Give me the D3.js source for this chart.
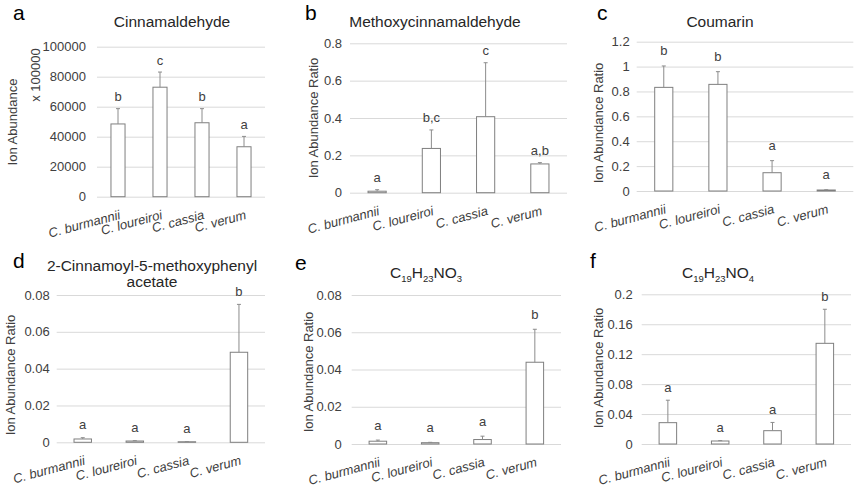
<!DOCTYPE html>
<html>
<head>
<meta charset="utf-8">
<script src="https://cdn.jsdelivr.net/npm/d3@7"></script>
<style>
  html, body { margin: 0; padding: 0; background: #ffffff; }
  svg { display: block; font-family: "Liberation Sans", Arial, sans-serif; }
</style>
</head>
<body>
<svg id="chart" width="858" height="492"></svg>
<script>
// ---------------- DATA ----------------
const categories = ["C. burmannii", "C. loureiroi", "C. cassia", "C. verum"];

const cinnamaldehydeMean = [48500, 73000, 49300, 33300];
const cinnamaldehydeErr  = [10200, 10100, 9400, 6900];
const cinnamaldehydeSig  = ["b", "c", "b", "a"];
const cinnamaldehydeTicks = [0, 20000, 40000, 60000, 80000, 100000];

const methoxyMean = [0.008, 0.237, 0.407, 0.154];
const methoxyErr  = [0.008, 0.099, 0.289, 0.007];
const methoxySig  = ["a", "b,c", "c", "a,b"];
const methoxyTicks = [0, 0.2, 0.4, 0.6, 0.8];

const coumarinMean = [0.833, 0.857, 0.147, 0.008];
const coumarinErr  = [0.172, 0.102, 0.097, 0.002];
const coumarinSig  = ["b", "b", "a", "a"];
const coumarinTicks = [0, 0.2, 0.4, 0.6, 0.8, 1, 1.2];

const acetateMean = [0.0018, 0.0007, 0.0003, 0.0489];
const acetateErr  = [0.0007, 0.0002, 0.0001, 0.026];
const acetateSig  = ["a", "a", "a", "b"];
const acetateTicks = [0, 0.02, 0.04, 0.06, 0.08];

const no3Mean = [0.0015, 0.0007, 0.0024, 0.0439];
const no3Err  = [0.0006, 0.0002, 0.0018, 0.0177];
const no3Sig  = ["a", "a", "a", "b"];
const no3Ticks = [0, 0.02, 0.04, 0.06, 0.08];

const no4Mean = [0.0285, 0.004, 0.0178, 0.1345];
const no4Err  = [0.030, 0.0005, 0.011, 0.0455];
const no4Sig  = ["a", "a", "a", "b"];
const no4Ticks = [0, 0.04, 0.08, 0.12, 0.16, 0.2];

// ---------------- LAYOUT ----------------
const panels = [
  { letter: "a", lx: 13, ly: 20, title: ["Cinnamaldehyde"], tx: 172, ty: 27,
    mean: cinnamaldehydeMean, err: cinnamaldehydeErr, sig: cinnamaldehydeSig, ticks: cinnamaldehydeTicks,
    x0: 97, x1: 265, y0: 46.7, y1: 196.7, tickGap: 11, sigGap: 7.5,
    yTitles: [{ text: "Ion Abundance", x: 12, y: 122 }, { text: "x 100000", x: 35, y: 75 }] },
  { letter: "b", lx: 305, ly: 20, title: ["Methoxycinnamaldehyde"], tx: 435, ty: 27,
    mean: methoxyMean, err: methoxyErr, sig: methoxySig, ticks: methoxyTicks,
    x0: 350, x1: 567, y0: 43.3, y1: 192.7, tickGap: 8, sigGap: 8,
    yTitles: [{ text: "Ion Abundance Ratio", x: 313, y: 118 }] },
  { letter: "c", lx: 597, ly: 20, title: ["Coumarin"], tx: 720, ty: 26.5,
    mean: coumarinMean, err: coumarinErr, sig: coumarinSig, ticks: coumarinTicks,
    x0: 636.7, x1: 853.3, y0: 41.7, y1: 191, tickGap: 7, sigGap: 11,
    yTitles: [{ text: "Ion Abundance Ratio", x: 598, y: 123 }] },
  { letter: "d", lx: 13, ly: 268, title: ["2-Cinnamoyl-5-methoxyphenyl", "acetate"], tx: 152, ty: 270.5,
    mean: acetateMean, err: acetateErr, sig: acetateSig, ticks: acetateTicks,
    x0: 56.7, x1: 265, y0: 295, y1: 442.3, tickGap: 7, sigGap: 8.5,
    yTitles: [{ text: "Ion Abundance Ratio", x: 10, y: 375 }] },
  { letter: "e", lx: 295, ly: 270, title: ["C_{19}H_{23}NO_{3}"], tx: 426, ty: 277.5,
    mean: no3Mean, err: no3Err, sig: no3Sig, ticks: no3Ticks,
    x0: 351.7, x1: 561, y0: 295, y1: 444, tickGap: 10, sigGap: 10,
    yTitles: [{ text: "Ion Abundance Ratio", x: 308, y: 372 }] },
  { letter: "f", lx: 590, ly: 268, title: ["C_{19}H_{23}NO_{4}"], tx: 718, ty: 277.5,
    mean: no4Mean, err: no4Err, sig: no4Sig, ticks: no4Ticks,
    x0: 641.7, x1: 851, y0: 294.3, y1: 444, tickGap: 9, sigGap: 8.5,
    yTitles: [{ text: "Ion Abundance Ratio", x: 598, y: 368 }] }
];

const TEXT = "#404040";
const GRID = "#d9d9d9";
const BAR_STROKE = "#7f7f7f";
const ERR_STROKE = "#8c8c8c";

const svg = d3.select("#chart");
svg.append("rect").attr("width", 858).attr("height", 492).attr("fill", "#fff");

function addRichText(sel, str, subSize) {
  // parse "_{..}" subscripts
  const re = /_\{([^}]*)\}/g;
  let last = 0, m, sub = false;
  const parts = [];
  while ((m = re.exec(str)) !== null) {
    if (m.index > last) parts.push({ t: str.slice(last, m.index), sub: false });
    parts.push({ t: m[1], sub: true });
    last = re.lastIndex;
  }
  if (last < str.length) parts.push({ t: str.slice(last), sub: false });
  let shifted = false;
  parts.forEach(p => {
    const ts = sel.append("tspan").text(p.t);
    if (p.sub) {
      ts.attr("font-size", subSize).attr("dy", shifted ? 0 : 4);
      shifted = true;
    } else {
      if (shifted) ts.attr("dy", -4);
      shifted = false;
    }
  });
}

panels.forEach(p => {
  const g = svg.append("g");
  const yMax = p.ticks[p.ticks.length - 1];
  const y = d3.scaleLinear().domain([0, yMax]).range([p.y1, p.y0]);
  const x = d3.scaleBand().domain(categories).range([p.x0, p.x1])
    .paddingInner(0.665).paddingOuter(0.3325);

  // gridlines + tick labels via axis
  const axis = d3.axisLeft(y).tickValues(p.ticks).tickFormat(d => String(d))
    .tickSize(-(p.x1 - p.x0)).tickPadding(p.tickGap);
  const ag = g.append("g").attr("transform", `translate(${p.x0},0)`).call(axis);
  ag.select(".domain").remove();
  ag.selectAll(".tick line").attr("stroke", GRID).attr("stroke-width", 1);
  ag.selectAll(".tick text").attr("fill", TEXT).attr("font-size", 13)
    .attr("font-family", "'Liberation Sans', Arial, sans-serif");

  // bars
  g.selectAll("rect.bar").data(categories).enter().append("rect")
    .attr("class", "bar")
    .attr("x", d => x(d))
    .attr("width", x.bandwidth())
    .attr("y", (d, i) => y(p.mean[i]))
    .attr("height", (d, i) => p.y1 - y(p.mean[i]))
    .attr("fill", "#fff").attr("stroke", BAR_STROKE).attr("stroke-width", 1);

  // error bars (upper only)
  const cx = d => x(d) + x.bandwidth() / 2;
  g.selectAll("line.err").data(categories).enter().append("line")
    .attr("x1", cx).attr("x2", cx)
    .attr("y1", (d, i) => y(p.mean[i]))
    .attr("y2", (d, i) => y(p.mean[i] + p.err[i]))
    .attr("stroke", ERR_STROKE).attr("stroke-width", 1);
  g.selectAll("line.cap").data(categories).enter().append("line")
    .attr("x1", d => cx(d) - 2).attr("x2", d => cx(d) + 2)
    .attr("y1", (d, i) => y(p.mean[i] + p.err[i]))
    .attr("y2", (d, i) => y(p.mean[i] + p.err[i]))
    .attr("stroke", ERR_STROKE).attr("stroke-width", 1);

  // significance letters
  g.selectAll("text.sig").data(categories).enter().append("text")
    .attr("x", cx)
    .attr("y", (d, i) => y(p.mean[i] + p.err[i]) - p.sigGap)
    .attr("text-anchor", "middle").attr("font-size", 13).attr("fill", TEXT)
    .text((d, i) => p.sig[i]);

  // category labels
  g.selectAll("text.cat").data(categories).enter().append("text")
    .attr("transform", d => `translate(${cx(d) + 3},${p.y1 + 22}) rotate(-15)`)
    .attr("text-anchor", "end").attr("font-size", 13).attr("font-style", "italic")
    .attr("fill", TEXT).text(d => d);

  // title
  p.title.forEach((line, k) => {
    const t = g.append("text").attr("x", p.tx).attr("y", p.ty + k * 16)
      .attr("text-anchor", "middle").attr("font-size", 15.5).attr("fill", "#262626");
    addRichText(t, line, 9.5);
  });

  // y titles
  p.yTitles.forEach(yt => {
    g.append("text").attr("transform", `translate(${yt.x},${yt.y}) rotate(-90)`)
      .attr("text-anchor", "middle").attr("dominant-baseline", "central")
      .attr("font-size", 13).attr("fill", TEXT).text(yt.text);
  });

  // panel letter
  g.append("text").attr("x", p.lx).attr("y", p.ly).attr("font-size", 21)
    .attr("fill", "#000").text(p.letter);
});
</script>
</body>
</html>
